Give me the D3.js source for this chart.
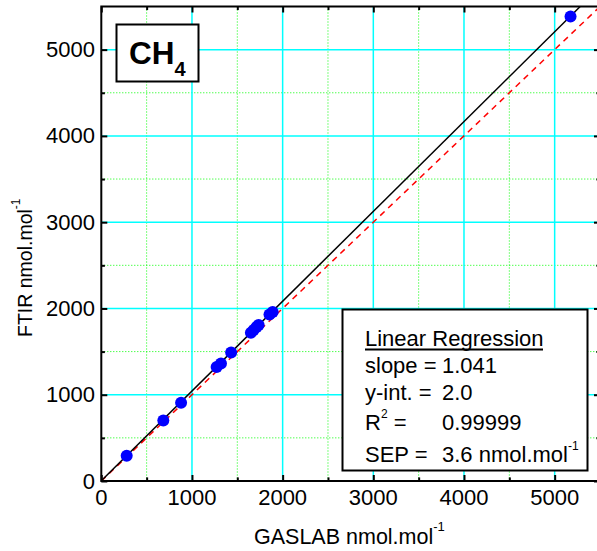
<!DOCTYPE html>
<html><head><meta charset="utf-8">
<script src="https://cdn.jsdelivr.net/npm/d3@7"></script>
<style>
html,body{margin:0;padding:0;background:#fff;}
svg{display:block;font-family:"Liberation Sans",Arial,sans-serif;}
</style></head>
<body><svg id="c" width="597" height="551"></svg>
<script>
// Data
const gaslab = [280, 684, 880, 1272, 1320, 1432, 1650, 1680, 1712, 1735, 1855, 1890, 5175];
const ftir   = [292, 700, 908, 1322, 1362, 1490, 1718, 1750, 1785, 1808, 1930, 1958, 5385];
const majorTicks = [0, 1000, 2000, 3000, 4000, 5000];
const minorTicks = [500, 1500, 2500, 3500, 4500];
const fitSlope = [1.041];
const fitIntercept = [2.0];
const legendLines = ["slope = ", "y-int. = ", "R", "SEP = "];
const legendValues = ["1.041", "2.0", "0.99999", "3.6 nmol.mol"];

const svg = d3.select("#c");
const L = 101.3, R = 600, T = 6.5, B = 481;
const x = d3.scaleLinear().domain([0, 5500]).range([L, R]);
const y = d3.scaleLinear().domain([0, 5500]).range([B, T]);

// grid minor
const g = svg.append("g");
g.selectAll(".vmin").data(minorTicks).enter().append("line")
  .attr("x1", d => x(d)).attr("x2", d => x(d)).attr("y1", T).attr("y2", B)
  .attr("stroke", "#00ff00").attr("stroke-width", 1).attr("stroke-dasharray", "1,2");
g.selectAll(".hmin").data(minorTicks).enter().append("line")
  .attr("y1", d => y(d)).attr("y2", d => y(d)).attr("x1", L).attr("x2", R)
  .attr("stroke", "#00ff00").attr("stroke-width", 1).attr("stroke-dasharray", "1,2");
g.selectAll(".vmaj").data(majorTicks.slice(1)).enter().append("line")
  .attr("x1", d => x(d)).attr("x2", d => x(d)).attr("y1", T).attr("y2", B)
  .attr("stroke", "#00ffff").attr("stroke-width", 1.5);
g.selectAll(".hmaj").data(majorTicks.slice(1)).enter().append("line")
  .attr("y1", d => y(d)).attr("y2", d => y(d)).attr("x1", L).attr("x2", R)
  .attr("stroke", "#00ffff").attr("stroke-width", 1.5);

// 1:1 line (red dashed)
svg.append("line")
  .attr("x1", x(0)).attr("y1", y(0)).attr("x2", x(5500)).attr("y2", y(5500))
  .attr("stroke", "#ff0000").attr("stroke-width", 1.5).attr("stroke-dasharray", "6,5");

// regression line
const xEnd = (5500 - fitIntercept[0]) / fitSlope[0];
svg.append("line")
  .attr("x1", x(0)).attr("y1", y(fitIntercept[0])).attr("x2", x(xEnd)).attr("y2", y(5500))
  .attr("stroke", "#000").attr("stroke-width", 1.5);

// points
svg.selectAll("circle.pt").data(gaslab).enter().append("circle")
  .attr("cx", d => x(d)).attr("cy", (d, i) => y(ftir[i])).attr("r", 6)
  .attr("fill", "#0000ff");

// axes (inward ticks)
const axB = d3.axisBottom(x).tickValues(majorTicks.concat(minorTicks)).tickSize(-6).tickFormat("");
const axT = d3.axisTop(x).tickValues(majorTicks.concat(minorTicks)).tickSize(-6).tickFormat("");
const axLft = d3.axisLeft(y).tickValues(majorTicks.concat(minorTicks)).tickSize(-6).tickFormat("");
const axRgt = d3.axisRight(y).tickValues(majorTicks.concat(minorTicks)).tickSize(-6).tickFormat("");
function styleAxis(sel) {
  sel.select(".domain").remove();
  sel.selectAll(".tick line").attr("stroke", "#000").attr("stroke-width", 2);
  const a = sel.attr("data-o") === "h" ? "y2" : "x2";
  sel.selectAll(".tick").filter(d => minorTicks.includes(d)).select("line")
    .attr(a, function () { return +d3.select(this).attr(a) * 0.6; });
}
svg.append("g").attr("transform", `translate(0,${B})`).attr("data-o", "h").call(axB).call(styleAxis);
svg.append("g").attr("transform", `translate(0,${T})`).attr("data-o", "h").call(axT).call(styleAxis);
svg.append("g").attr("transform", `translate(${L},0)`).attr("data-o", "v").call(axLft).call(styleAxis);
svg.append("g").attr("transform", `translate(${R},0)`).attr("data-o", "v").call(axRgt).call(styleAxis);

// frame
svg.append("rect").attr("x", L).attr("y", T).attr("width", R - L).attr("height", B - T)
  .attr("fill", "none").attr("stroke", "#000").attr("stroke-width", 2);

// tick labels
svg.selectAll("text.xt").data(majorTicks).enter().append("text")
  .attr("x", d => x(d)).attr("y", 505).attr("text-anchor", "middle")
  .attr("font-size", 22).text(d => d);
svg.selectAll("text.yt").data(majorTicks).enter().append("text")
  .attr("x", 95).attr("y", d => y(d) + 7.5).attr("text-anchor", "end")
  .attr("font-size", 22).text(d => d);

// axis titles
const xt = svg.append("text").attr("x", 254).attr("y", 544).attr("font-size", 21.5);
xt.append("tspan").text("GASLAB nmol.mol");
xt.append("tspan").attr("dy", -13).attr("font-size", 13).text("-1");

const yt = svg.append("text").attr("transform", "translate(32,337) rotate(-90)").attr("font-size", 19.5);
yt.append("tspan").text("FTIR nmol.mol");
yt.append("tspan").attr("dy", -12).attr("font-size", 12).text("-1");

// CH4 box
svg.append("rect").attr("x", 116.5).attr("y", 24.5).attr("width", 82).attr("height", 57)
  .attr("fill", "#fff").attr("stroke", "#000").attr("stroke-width", 2);
const ch = svg.append("text").attr("x", 129).attr("y", 63.5).attr("font-size", 31.5).attr("font-weight", "bold");
ch.append("tspan").text("CH");
ch.append("tspan").attr("dy", 12).attr("font-size", 20).text("4");

// Legend box
svg.append("rect").attr("x", 342.5).attr("y", 309.5).attr("width", 245).attr("height", 161)
  .attr("fill", "#fff").attr("stroke", "#000").attr("stroke-width", 2);
svg.append("text").attr("x", 365).attr("y", 346).attr("font-size", 22).text("Linear Regression");
svg.append("line").attr("x1", 365).attr("x2", 543).attr("y1", 349.5).attr("y2", 349.5)
  .attr("stroke", "#000").attr("stroke-width", 2);
const baselines = [372.5, 399.5, 430, 461.5];
legendLines.forEach((t, i) => {
  const tx = svg.append("text").attr("x", 365).attr("y", baselines[i]).attr("font-size", 22);
  tx.append("tspan").text(t);
  if (t === "R") {
    tx.append("tspan").attr("dy", -12).attr("font-size", 12).text("2");
    tx.append("tspan").attr("dy", 12).text(" =");
  }
  const v = svg.append("text").attr("x", 442).attr("y", baselines[i]).attr("font-size", 22);
  v.append("tspan").text(legendValues[i]);
  if (i === 3) v.append("tspan").attr("dy", -12).attr("font-size", 12).text("-1");
});
</script></body></html>
